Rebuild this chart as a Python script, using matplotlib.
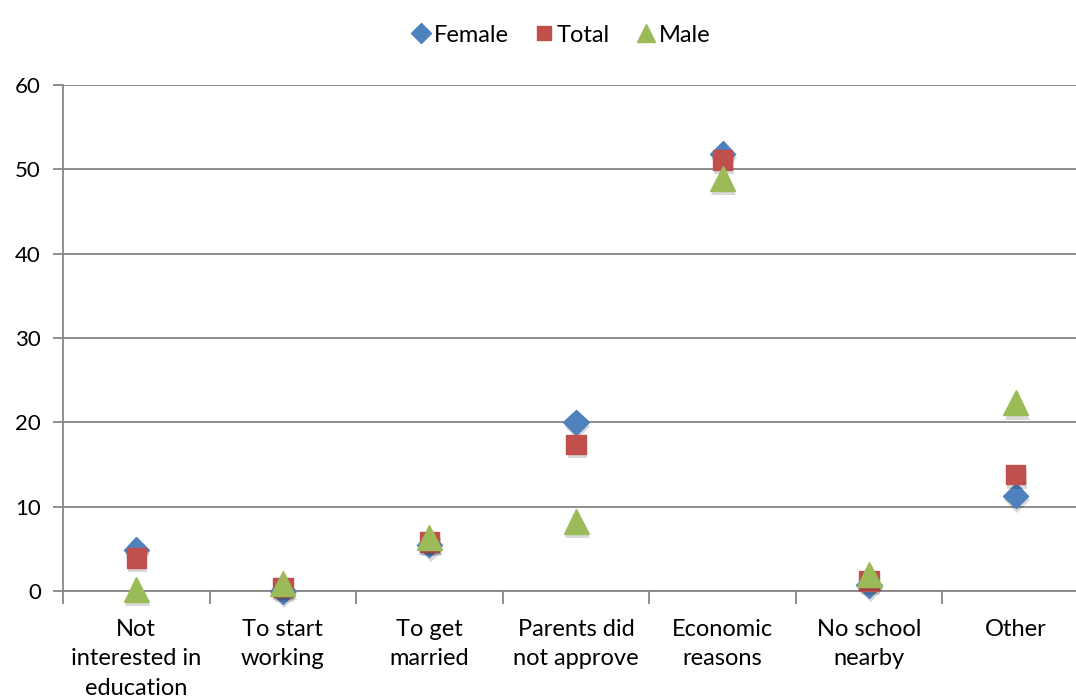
import numpy as np
from matplotlib import pyplot as plt
import matplotlib.patheffects as pe

plt.rcParams['font.family'] = ['Lato', 'DejaVu Sans']

categories = ['Not\ninterested in\neducation', 'To start\nworking', 'To get\nmarried',
              'Parents did\nnot approve', 'Economic\nreasons', 'No school\nnearby', 'Other']
female = [4.9, 0.0, 5.5, 20.0, 51.8, 0.7, 11.3]
total = [3.9, 0.4, 5.8, 17.4, 51.1, 1.2, 13.8]
male = [0.2, 0.9, 6.3, 8.3, 48.9, 2.0, 22.3]

fig = plt.figure(figsize=(10.76, 6.97), dpi=100)
ax = fig.add_axes([63 / 1076, 106 / 697, 1026 / 1076, 506 / 697])

x = np.arange(1, len(categories) + 1)
shadow = [pe.SimplePatchShadow(offset=(1, -3), shadow_rgbFace='black', alpha=0.15), pe.Normal()]

ax.plot(x, female, linestyle='none', marker='D', markersize=13, color='#4F81BD',
        label='Female', path_effects=shadow, zorder=3, clip_on=False)
ax.plot(x, total, linestyle='none', marker='s', markersize=14, color='#C0504D',
        label='Total', path_effects=shadow, zorder=4, clip_on=False)
ax.plot(x, male, linestyle='none', marker='^', markersize=18, color='#9BBB59',
        label='Male', path_effects=shadow, zorder=5, clip_on=False)

ax.set_xlim(0.5, 7.5)
ax.set_ylim(0, 60)
ax.set_yticks(range(0, 61, 10))
ax.tick_params(axis='y', labelsize=16, length=7, color='#868686', width=1.3, pad=9)
ax.yaxis.grid(True, color='#868686', linewidth=1.3)
ax.set_axisbelow(True)

# category labels between tick marks at boundaries
ax.set_xticks(x)
ax.set_xticklabels(categories, fontsize=17, linespacing=1.5)
ax.tick_params(axis='x', length=0, pad=20)
ax.set_xticks(np.arange(0.5, 7.6, 1), minor=True)
ax.tick_params(axis='x', which='minor', length=9, color='#868686', width=1.3)

for s in ['top', 'right']:
    ax.spines[s].set_visible(False)
for s in ['left', 'bottom']:
    ax.spines[s].set_color('#868686')
    ax.spines[s].set_linewidth(1.3)

leg = fig.legend(loc='upper center', bbox_to_anchor=(0.52, 0.995), ncol=3, frameon=False,
                 fontsize=17, handletextpad=0.05, columnspacing=1.0, handlelength=1.0,
                 markerscale=0.75)
for h in leg.legend_handles:
    h.set_path_effects([])

fig.savefig('out.png', dpi=100)
